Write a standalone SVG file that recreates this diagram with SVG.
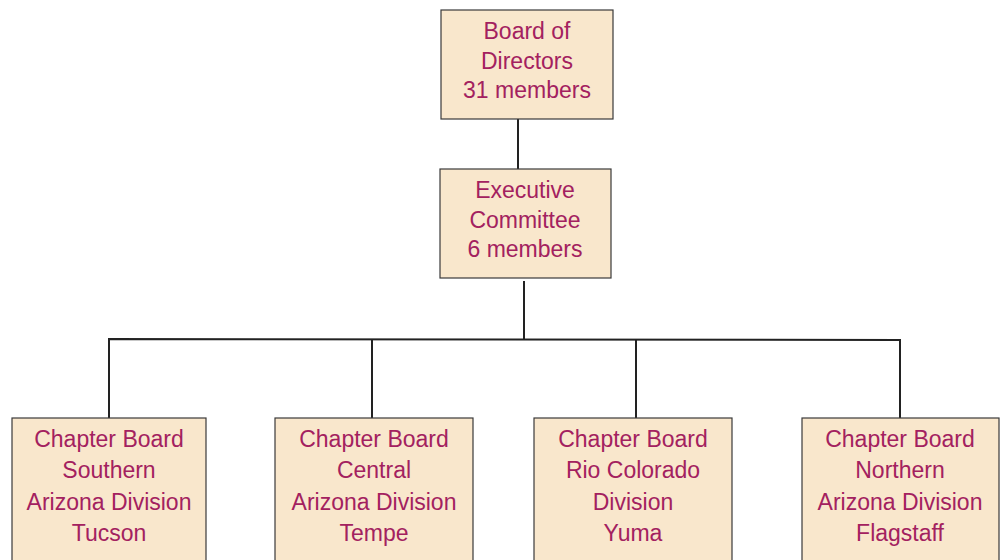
<svg xmlns="http://www.w3.org/2000/svg" width="1000" height="560" viewBox="0 0 1000 560">
<style>
.box{fill:#f9e7cc;stroke:#3a3a3a;stroke-width:1.2}
.t{font-family:"Liberation Sans",Arial,sans-serif;font-size:23px;fill:#a3215f;text-anchor:middle}
.c{stroke:#222;stroke-width:2;fill:none}
</style>
<rect width="1000" height="560" fill="#fff"/>
<g id="connectors">
<line class="c" x1="518" y1="119" x2="518" y2="169"/>
<line class="c" x1="524" y1="281" x2="524" y2="340"/>
<polyline class="c" points="109,418 109,339 900,340 900,418"/>
<line class="c" x1="372" y1="339" x2="372" y2="418"/>
<line class="c" x1="636" y1="340" x2="636" y2="418"/>
</g>
<g id="board">
<rect class="box" x="441" y="10" width="172" height="109"/>
<text class="t" x="527" y="39">Board of</text>
<text class="t" x="527" y="69">Directors</text>
<text class="t" x="527" y="98">31 members</text>
</g>
<g id="exec">
<rect class="box" x="440" y="169" width="171" height="109"/>
<text class="t" x="525" y="198">Executive</text>
<text class="t" x="525" y="228">Committee</text>
<text class="t" x="525" y="257">6 members</text>
</g>
<g id="southern">
<rect class="box" x="12" y="418" width="194" height="150"/>
<text class="t" x="109" y="447">Chapter Board</text>
<text class="t" x="109" y="478">Southern</text>
<text class="t" x="109" y="510">Arizona Division</text>
<text class="t" x="109" y="541">Tucson</text>
</g>
<g id="central">
<rect class="box" x="275" y="418" width="198" height="150"/>
<text class="t" x="374" y="447">Chapter Board</text>
<text class="t" x="374" y="478">Central</text>
<text class="t" x="374" y="510">Arizona Division</text>
<text class="t" x="374" y="541">Tempe</text>
</g>
<g id="rio">
<rect class="box" x="534" y="418" width="198" height="150"/>
<text class="t" x="633" y="447">Chapter Board</text>
<text class="t" x="633" y="478">Rio Colorado</text>
<text class="t" x="633" y="510">Division</text>
<text class="t" x="633" y="541">Yuma</text>
</g>
<g id="northern">
<rect class="box" x="802" y="418" width="197" height="150"/>
<text class="t" x="900" y="447">Chapter Board</text>
<text class="t" x="900" y="478">Northern</text>
<text class="t" x="900" y="510">Arizona Division</text>
<text class="t" x="900" y="541">Flagstaff</text>
</g>
</svg>
